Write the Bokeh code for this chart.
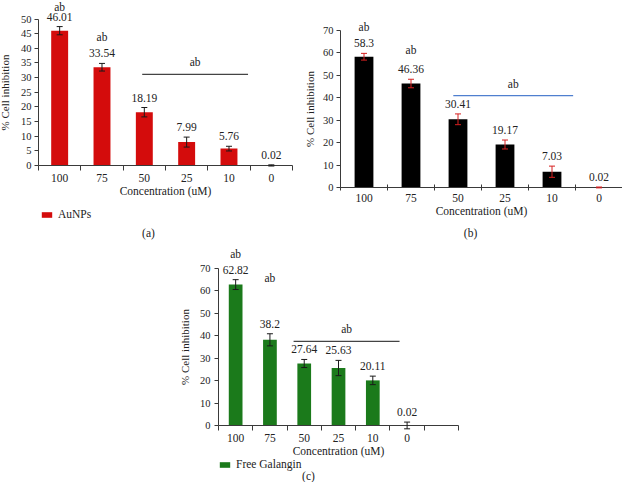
from bokeh.plotting import figure
from bokeh.models import (ColumnDataSource, FixedTicker, LabelSet, Label, Whisker,
                          TeeHead, Legend, LegendItem, Spacer, Range1d)
from bokeh.layouts import row, column
from bokeh.core.properties import value
from bokeh.embed import file_html
from bokeh.resources import INLINE

# ---------------- data ----------------
concentrations = ["100", "75", "50", "25", "10", "0"]

aunp_values = [46.01, 33.54, 18.19, 7.99, 5.76, 0.02]
aunp_errors = [1.4, 1.3, 1.6, 1.7, 0.8, 0.2]
aunp_sig = [54.1, 44.0]            # heights of "ab" over the first two bars
aunp_group = [2.45, 4.95, 31.1]    # group bar: from slot, to slot, height

mix_values = [58.3, 46.36, 30.41, 19.17, 7.03, 0.02]
mix_errors = [1.5, 1.9, 2.4, 2.0, 2.5, 0.2]
mix_sig = [71.4, 61.2]
mix_group = [2.4, 4.95, 41.0]

gal_values = [62.82, 38.2, 27.64, 25.63, 20.11, 0.02]
gal_errors = [2.2, 2.7, 1.8, 3.4, 1.9, 1.5]
gal_sig = [76.3, 65.6]
gal_group = [2.19, 5.28, 37.5]

sig_text = "ab"
y_title = "% Cell inhibition"
x_title = "Concentration (uM)"

FONT = "Liberation Serif"
AX = "#3a3a3a"
TXT = "#222222"


def panel(values, errors, sig, group, slots, y_max, y_step,
          fig_w, fig_h, axis_x, slot_w, zero_y, ppu,
          bar_color, err_color, line_color, ylabel_standoff, ylabel_gap,
          xtick_in=0, xtick_out=5,
          legend_label=None, legend_loc=None, caption=None, caption_px=None):
    # ranges chosen so that the frame fills the whole canvas
    x_range = Range1d(-axis_x / slot_w, (fig_w - axis_x) / slot_w)
    y_range = Range1d(-(fig_h - zero_y) / ppu, zero_y / ppu)
    p = figure(width=fig_w, height=fig_h, output_backend="svg", toolbar_location=None,
               x_range=x_range, y_range=y_range, min_border=0,
               min_border_left=0, min_border_right=0, min_border_top=0,
               min_border_bottom=0)
    p.outline_line_color = None
    p.xgrid.visible = False
    p.ygrid.visible = False
    p.background_fill_color = None
    p.border_fill_color = None

    xs = [i + 0.5 for i in range(len(concentrations))]
    src = ColumnDataSource(dict(
        x=xs, top=values,
        up=[v + e for v, e in zip(values, errors)],
        lo=[v - e for v, e in zip(values, errors)],
        lab=[str(v) for v in values]))

    bars = p.vbar(x="x", top="top", width=0.4, bottom=0, source=src,
                  fill_color=bar_color, line_color=None)

    w = Whisker(source=src, base="x", upper="up", lower="lo", level="annotation",
                line_color=err_color, line_width=1,
                upper_head=TeeHead(size=6, line_color=err_color, line_width=1),
                lower_head=TeeHead(size=6, line_color=err_color, line_width=1))
    p.add_layout(w)

    p.add_layout(LabelSet(x="x", y="up", text="lab", source=src, y_offset=10,
                          text_align="center", text_baseline="middle",
                          text_font=value(FONT), text_font_size="11.5px",
                          text_color=TXT))

    ssrc = ColumnDataSource(dict(x=xs[:len(sig)], y=sig, t=[sig_text] * len(sig)))
    p.add_layout(LabelSet(x="x", y="y", text="t", source=ssrc,
                          text_align="center", text_baseline="middle",
                          text_font=value(FONT), text_font_size="11.5px",
                          text_color=TXT))

    g0, g1, gy = group
    p.segment(x0=[g0], y0=[gy], x1=[g1], y1=[gy], line_color=line_color, line_width=1.2)
    p.add_layout(Label(x=(g0 + g1) / 2, y=gy, y_offset=12, text=sig_text,
                       text_align="center", text_baseline="middle",
                       text_font=FONT, text_font_size="11.5px", text_color=TXT))

    # x axis at y = 0: labels at slot centres, ticks at slot boundaries
    xa = p.xaxis[0]
    xa.fixed_location = 0
    xa.bounds = (0, slots)
    xa.ticker = FixedTicker(ticks=xs, minor_ticks=list(range(slots + 1)))
    xa.major_label_overrides = {x: c for x, c in zip(xs, concentrations)}
    xa.major_tick_line_color = None
    xa.major_tick_out = 0
    xa.major_tick_in = 0
    xa.minor_tick_out = xtick_out
    xa.minor_tick_in = xtick_in
    xa.minor_tick_line_color = AX
    xa.axis_line_color = AX
    xa.major_label_standoff = 3
    xa.major_label_text_font = FONT
    xa.major_label_text_font_size = "11.5px"
    xa.major_label_text_color = TXT
    xa.axis_label = x_title
    xa.axis_label_standoff = 0
    xa.axis_label_text_font = FONT
    xa.axis_label_text_font_size = "11.5px"
    xa.axis_label_text_font_style = "normal"
    xa.axis_label_text_color = TXT

    # y axis at x = 0
    ya = p.yaxis[0]
    ya.fixed_location = 0
    ya.ticker = FixedTicker(ticks=list(range(0, y_max + 1, y_step)))
    ya.bounds = (0, y_max)
    ya.minor_tick_line_color = None
    ya.major_tick_out = 4
    ya.major_tick_in = 0
    ya.major_tick_line_color = AX
    ya.axis_line_color = AX
    ya.major_label_standoff = ylabel_gap
    ya.major_label_text_font = FONT
    ya.major_label_text_font_size = "10.5px"
    ya.major_label_text_color = TXT
    ya.axis_label = y_title
    ya.axis_label_standoff = ylabel_standoff
    ya.axis_label_text_font = FONT
    ya.axis_label_text_font_size = "11px"
    ya.axis_label_text_font_style = "normal"
    ya.axis_label_text_color = TXT

    if legend_label:
        lg = Legend(items=[LegendItem(label=legend_label, renderers=[bars])],
                    location=legend_loc, padding=0, margin=0, spacing=0,
                    border_line_color=None, background_fill_alpha=0,
                    glyph_width=13, glyph_height=7, label_height=7,
                    label_standoff=5, label_text_font=FONT,
                    label_text_font_size="11.5px", label_text_color=TXT)
        p.add_layout(lg)
    if caption:
        cx = (caption_px[0] - axis_x) / slot_w
        cy = (zero_y - caption_px[1]) / ppu
        p.add_layout(Label(x=cx, y=cy, text=caption, text_align="center",
                           text_baseline="middle", text_font=FONT,
                           text_font_size="11.5px", text_color=TXT))
    return p


# panel geometry (pixels inside each figure)
pa = panel(aunp_values, aunp_errors, aunp_sig, aunp_group, 6, 50, 5,
           300, 240, 38, 42.33, 165, 2.93,
           "#d40c0c", "#1a1a1a", "#444444", 7, 3,
           legend_label="AuNPs", legend_loc=(40, 20), caption="(a)", caption_px=(148, 232))

pb = panel(mix_values, mix_errors, mix_sig, mix_group, 6, 70, 10,
           322, 240, 40, 47.0, 187, 2.243,
           "#000000", "#d62020", "#4f7fcf", 4, 3, xtick_in=3, xtick_out=3,
           caption="(b)", caption_px=(170, 232))

pc = panel(gal_values, gal_errors, gal_sig, gal_group, 7, 70, 10,
           302, 242, 58, 34.29, 185, 2.243,
           "#1b7a1b", "#1a1a1a", "#444444", 6, 4,
           legend_label="Free Galangin", legend_loc=(58, 12), caption="(c)", caption_px=(148, 235))

layout = column(row(pa, pb), row(Spacer(width=160, height=242), pc))

open("out.html", "w").write(file_html(layout, INLINE))
